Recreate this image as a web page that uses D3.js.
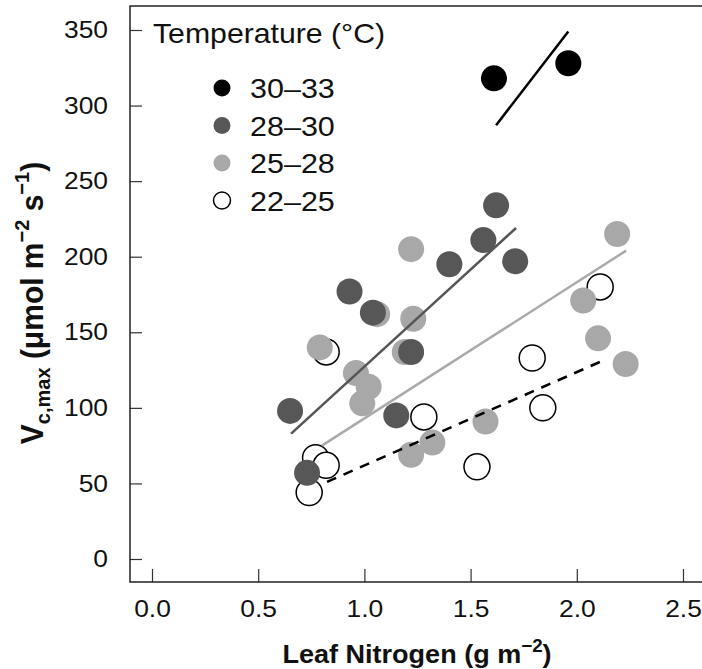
<!DOCTYPE html>
<html>
<head>
<meta charset="utf-8">
<script src="https://cdn.jsdelivr.net/npm/d3@7"></script>
<style>
  body { margin: 0; background: #fff; }
  text { font-family: "Liberation Sans", Arial, sans-serif; }
</style>
</head>
<body>
<div id="chart"></div>
<script>
// data: leaf N (g m-2) and Vc,max
const groups = ["30–33", "28–30", "25–28", "22–25"];
const fills = ["#000000", "#575757", "#a8a8a8", "#ffffff"];

const n2225 = [0.82, 2.11, 1.79, 1.84, 1.28, 1.53, 0.77, 0.82, 0.74];
const v2225 = [137, 180, 133, 100, 94, 61, 67, 62, 44];

const n2528 = [1.22, 2.19, 1.23, 1.06, 0.79, 2.03, 0.96, 1.02, 0.99, 1.19, 2.10, 2.23, 1.57, 1.32, 1.22];
const v2528 = [205, 215, 159, 162, 140, 171, 123, 114, 103, 137, 146, 129, 91, 77, 69];

const n2830 = [1.62, 1.56, 1.40, 1.71, 0.93, 1.04, 1.22, 1.15, 0.65, 0.73];
const v2830 = [234, 211, 195, 197, 177, 163, 137, 95, 98, 57];

const n3033 = [1.61, 1.96];
const v3033 = [318, 328];

// fitted lines, end points [N, V]
const fit3033 = [[1.62, 287], [1.96, 349]];
const fit2830 = [[0.655, 83], [1.714, 219]];
const fit2528 = [[0.80, 75], [2.232, 204]];
const fit2225 = [[0.824, 51], [2.119, 131]];

const xTicks = [0, 0.5, 1, 1.5, 2, 2.5];
const yTicks = [0, 50, 100, 150, 200, 250, 300, 350];

const width = 702, height = 669;
const svg = d3.select("#chart").append("svg")
    .attr("width", width).attr("height", height);

const x = d3.scaleLinear().domain([0, 2.5]).range([152, 683]);
const y = d3.scaleLinear().domain([0, 350]).range([559, 30]);

const boxL = 130, boxT = 6, boxB = 582, boxR = 702;

// text in the original looks a bit wide, so stretch it sideways
const yAxis = svg.append("g").attr("transform", `translate(${boxL},0)`)
    .call(d3.axisLeft(y).tickValues(yTicks).tickSize(-12).tickPadding(20).tickFormat(d3.format("d")));
yAxis.select(".domain").remove();
yAxis.selectAll("text").attr("font-size", 24).attr("fill", "#111")
    .attr("font-family", "Liberation Sans, Arial").attr("transform", "scale(1.1,1)");
yAxis.selectAll("line").attr("stroke", "#333").attr("stroke-width", 1.2);

const xAxis = svg.append("g").attr("transform", `translate(0,${boxB})`)
    .call(d3.axisBottom(x).tickValues(xTicks).tickSize(-13).tickPadding(18).tickFormat(d3.format(".1f")));
xAxis.select(".domain").remove();
xAxis.selectAll("text").attr("font-size", 24).attr("fill", "#111")
    .attr("font-family", "Liberation Sans, Arial").attr("transform", "scale(1.1,1)");
xAxis.selectAll("line").attr("stroke", "#333").attr("stroke-width", 1.2);

// frame
svg.append("path")
    .attr("d", `M${boxR},${boxT}H${boxL}V${boxB}H${boxR}`)
    .attr("fill", "none").attr("stroke", "#222").attr("stroke-width", 1.5);

// points, open first so darker ones sit on top
const series = [
  { n: n2225, v: v2225, fill: fills[3] },
  { n: n2528, v: v2528, fill: fills[2] },
  { n: n2830, v: v2830, fill: fills[1] },
  { n: n3033, v: v3033, fill: fills[0] }
];
series.forEach(s => {
  svg.append("g").selectAll("circle")
    .data(s.n.map((d, i) => [d, s.v[i]]))
    .join("circle")
    .attr("cx", d => x(d[0]))
    .attr("cy", d => y(d[1]))
    .attr("r", 13)
    .attr("fill", s.fill)
    .attr("stroke", s.fill === "#ffffff" ? "#000" : "none")
    .attr("stroke-width", 1.5);
});

const line = d3.line().x(d => x(d[0])).y(d => y(d[1]));
[[fit3033, "#000", null], [fit2830, "#555", null], [fit2528, "#aaa", null], [fit2225, "#000", "10,8"]]
  .forEach(([pts, col, dash]) => {
    svg.append("path").attr("d", line(pts))
      .attr("stroke", col).attr("stroke-width", 2.5).attr("fill", "none")
      .attr("stroke-dasharray", dash);
  });

// legend
svg.append("text").attr("transform", "translate(153,43) scale(1.08,1)")
    .attr("font-size", 28).attr("fill", "#111")
    .text("Temperature (°C)");
const leg = svg.append("g").selectAll("g").data(groups).join("g")
    .attr("transform", (d, i) => `translate(222,${88 + i * 37.5})`);
leg.append("circle").attr("r", 8.5)
    .attr("fill", (d, i) => fills[i])
    .attr("stroke", (d, i) => i === 3 ? "#000" : "none").attr("stroke-width", 1.5);
leg.append("text").attr("transform", "translate(28,10) scale(1.09,1)")
    .attr("font-size", 28).attr("fill", "#111").text(d => d);

// axis titles
const xt = svg.append("text").attr("transform", "translate(417,663) scale(1.04,1)")
    .attr("text-anchor", "middle")
    .attr("font-size", 26).attr("font-weight", "bold").attr("fill", "#111");
xt.append("tspan").text("Leaf Nitrogen (g m");
xt.append("tspan").attr("dy", -11).attr("font-size", 18).text("−2");
xt.append("tspan").attr("dy", 11).text(")");

const yt = svg.append("text").attr("transform", "translate(43,303) rotate(-90) scale(1,1.05)")
    .attr("text-anchor", "middle").attr("font-size", 30).attr("font-weight", "bold").attr("fill", "#111");
yt.append("tspan").text("V");
yt.append("tspan").attr("dy", 7).attr("font-size", 20).text("c,max");
yt.append("tspan").attr("dy", -7).text(" (μmol m");
yt.append("tspan").attr("dy", -13).attr("font-size", 20).text("−2");
yt.append("tspan").attr("dy", 13).text(" s");
yt.append("tspan").attr("dy", -13).attr("font-size", 20).text("−1");
yt.append("tspan").attr("dy", 13).text(")");
</script>
</body>
</html>
